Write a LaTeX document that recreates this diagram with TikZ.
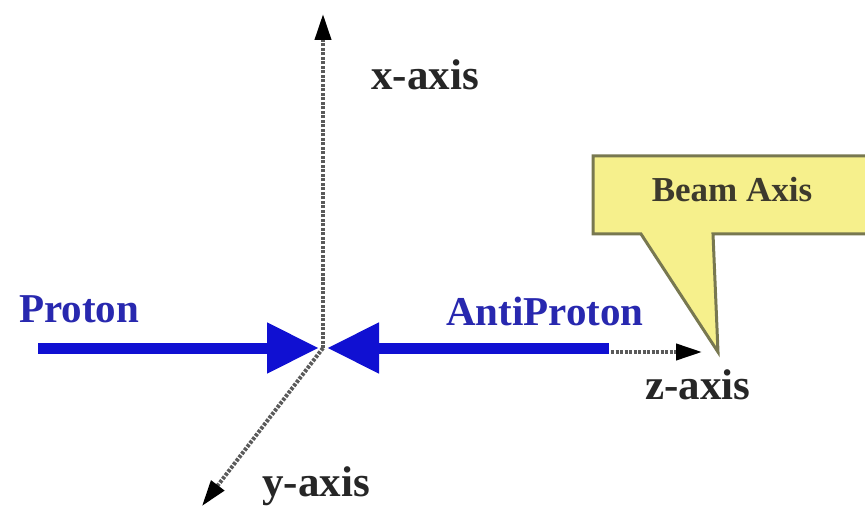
\documentclass[tikz,border=0pt]{standalone}
\usepackage{fontspec}
\setmainfont{Liberation Serif}
\usetikzlibrary{arrows.meta}
\definecolor{beamblue}{RGB}{16,16,210}
\definecolor{labelblue}{RGB}{40,40,175}
\definecolor{calloutfill}{RGB}{246,240,140}
\definecolor{calloutdraw}{RGB}{120,120,80}
\definecolor{axisgray}{RGB}{90,90,90}
\tikzset{
  axisline/.style={draw=axisgray, line width=4pt, dash pattern=on 3pt off 1.5pt,
    -{Triangle[length=26pt,width=16pt,fill=black,color=black]}},
  beamarrow/.style={draw=beamblue, line width=11pt,
    -{Triangle[length=52pt,width=48pt]}},
  axislabel/.style={font=\fontsize{43}{45}\selectfont\bfseries, text=black!85, inner sep=0pt},
  beamlabel/.style={font=\fontsize{41}{43}\selectfont\bfseries, text=labelblue, inner sep=0pt},
  calloutbox/.style={fill=calloutfill, draw=calloutdraw, line width=3pt, line join=miter},
  callouttext/.style={font=\fontsize{35}{37}\selectfont\bfseries, text=black!75!olive, inner sep=0pt}
}
\begin{document}
\begin{tikzpicture}[x=1pt,y=-1pt]
\useasboundingbox[fill=white] (0,0) rectangle (865,513);
% key points
\coordinate (o) at (323,348);
\coordinate (xend) at (323,14);
\coordinate (yend) at (202,506);
\coordinate (pstart) at (38,348);
\coordinate (ptip) at (319,348);
\coordinate (astart) at (609,348);
\coordinate (atip) at (327,348);
\coordinate (zstart) at (611,352);
\coordinate (zend) at (702,352);
\coordinate (calltip) at (718,352);
% axes
\draw[axisline] (o) -- (xend);
\draw[axisline] (o) -- (yend);
\draw[axisline] (zstart) -- (zend);
% beams
\draw[beamarrow] (pstart) -- (ptip);
\draw[beamarrow] (astart) -- (atip);
% callout
\draw[calloutbox] (880,156) -- (593,156) -- (593,234) -- (641,234) -- (calltip) -- (713,234) -- (880,234);
% labels
\node[axislabel] (xlab) at (425,75) {x-axis};
\node[axislabel] (ylab) at (316,486) {y-axis};
\node[axislabel] (zlab) at (698,385) {z-axis};
\node[beamlabel] (plab) at (79,309) {Proton};
\node[beamlabel] (alab) at (545,311) {AntiProton};
\node[callouttext] (blab) at (732,190) {Beam Axis};
\end{tikzpicture}
\end{document}
